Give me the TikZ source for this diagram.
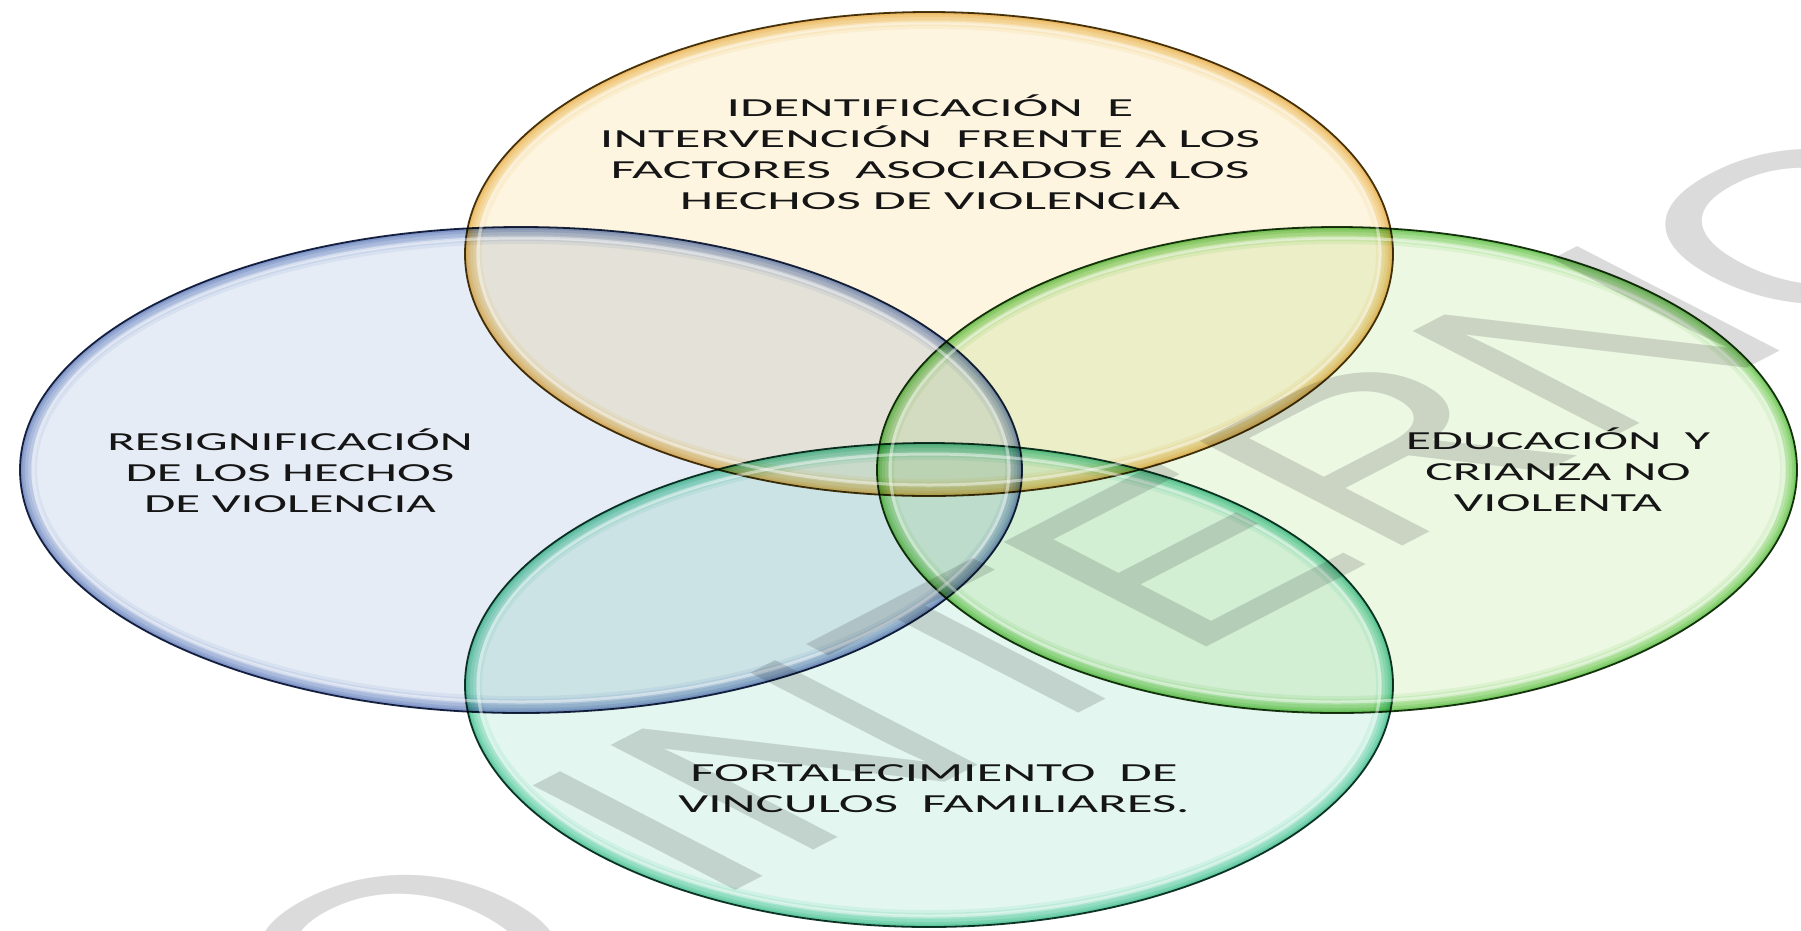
\documentclass[tikz,border=0pt]{standalone}
\usepackage{fontspec}
\setmainfont{Carlito}
\newfontfamily\wmfont{Liberation Sans}
\definecolor{yfill}{HTML}{FDF5E0}
\definecolor{yglow}{HTML}{F0BE45}
\definecolor{yline}{HTML}{4A3A10}
\definecolor{bfill}{HTML}{E6ECF6}
\definecolor{bglow}{HTML}{7090CC}
\definecolor{bline}{HTML}{1E2A48}
\definecolor{gfill}{HTML}{EDF8E3}
\definecolor{gglow}{HTML}{5CCC38}
\definecolor{gline}{HTML}{1E3A14}
\definecolor{tfill}{HTML}{E3F6EF}
\definecolor{tglow}{HTML}{38CFA0}
\definecolor{tline}{HTML}{143A30}
\definecolor{wmark}{RGB}{219,219,219}
\definecolor{txt}{HTML}{151515}
\newcommand\bubble[7]{%
  \fill[#5] (#1,#2) ellipse [x radius=#3, y radius=#4];
  \begin{scope}
    \clip (#1,#2) ellipse [x radius=#3, y radius=#4];
    \foreach \w/\o in {34/.10, 28/.12, 22/.14, 16/.16, 10/.2, 5/.25}
      \draw[#6, line width=\w pt, opacity=\o] (#1,#2) ellipse [x radius=#3, y radius=#4];
  \end{scope}
  \draw[#7, line width=1.8pt] (#1,#2) ellipse [x radius=#3, y radius=#4];
}
\newcommand\shine[4]{%
  \draw[white, line width=3pt, opacity=.45]
    (#1,#2) ellipse [x radius={#3-13}, y radius={#4-11}];
}
\tikzset{
  lbl/.style={font=\fontsize{26}{31}\selectfont, align=center, text=txt,
              inner sep=0pt, transform shape},
  wm/.style={font=\wmfont\fontsize{215}{215}\selectfont, text=wmark, inner sep=0pt,
             anchor=base, rotate=45, transform shape}
}
\begin{document}
\begin{tikzpicture}[x=1pt,y=-1pt]
\useasboundingbox (0,0) rectangle (1801,930);
\fill[white] (0,0) rectangle (1801,930);
\clip (0,0) rectangle (1801,930);
\coordinate (cy) at (929,254);
\coordinate (cb) at (521,470);
\coordinate (cg) at (1337,470);
\coordinate (ct) at (929,685);
\begin{scope}[blend mode=multiply]
  \bubble{929}{254}{464}{242}{yfill}{yglow}{yline}
  \bubble{521}{470}{501}{243}{bfill}{bglow}{bline}
  \bubble{1337}{470}{460}{243}{gfill}{gglow}{gline}
  \bubble{929}{685}{464}{242}{tfill}{tglow}{tline}
\end{scope}
\shine{929}{254}{464}{242}
\shine{521}{470}{501}{243}
\shine{1337}{470}{460}{243}
\shine{929}{685}{464}{242}
\begin{scope}[blend mode=multiply, xscale=1.9366]
  \node[wm] (wmk) at (522,748) {USO INTERNO};
\end{scope}
\begin{scope}[xscale=2.062]
  \node[lbl] (ty) at ({930/2.062},152) {IDENTIFICACIÓN\ \ E\\INTERVENCIÓN\ \ FRENTE A LOS\\FACTORES\ \ ASOCIADOS A LOS\\HECHOS DE VIOLENCIA};
\end{scope}
\begin{scope}[xscale=1.96]
  \node[lbl] (tb) at ({290/1.96},471) {RESIGNIFICACIÓN\\DE LOS HECHOS\\DE VIOLENCIA};
\end{scope}
\begin{scope}[xscale=1.99]
  \node[lbl] (tg) at ({1558/1.99},470) {EDUCACIÓN\ \ Y\\CRIANZA NO\\VIOLENTA};
\end{scope}
\begin{scope}[xscale=2.03]
  \node[lbl] (tt) at ({934/2.03},789) {FORTALECIMIENTO\ \ DE\\VINCULOS\ \ FAMILIARES.};
\end{scope}
\end{tikzpicture}
\end{document}
